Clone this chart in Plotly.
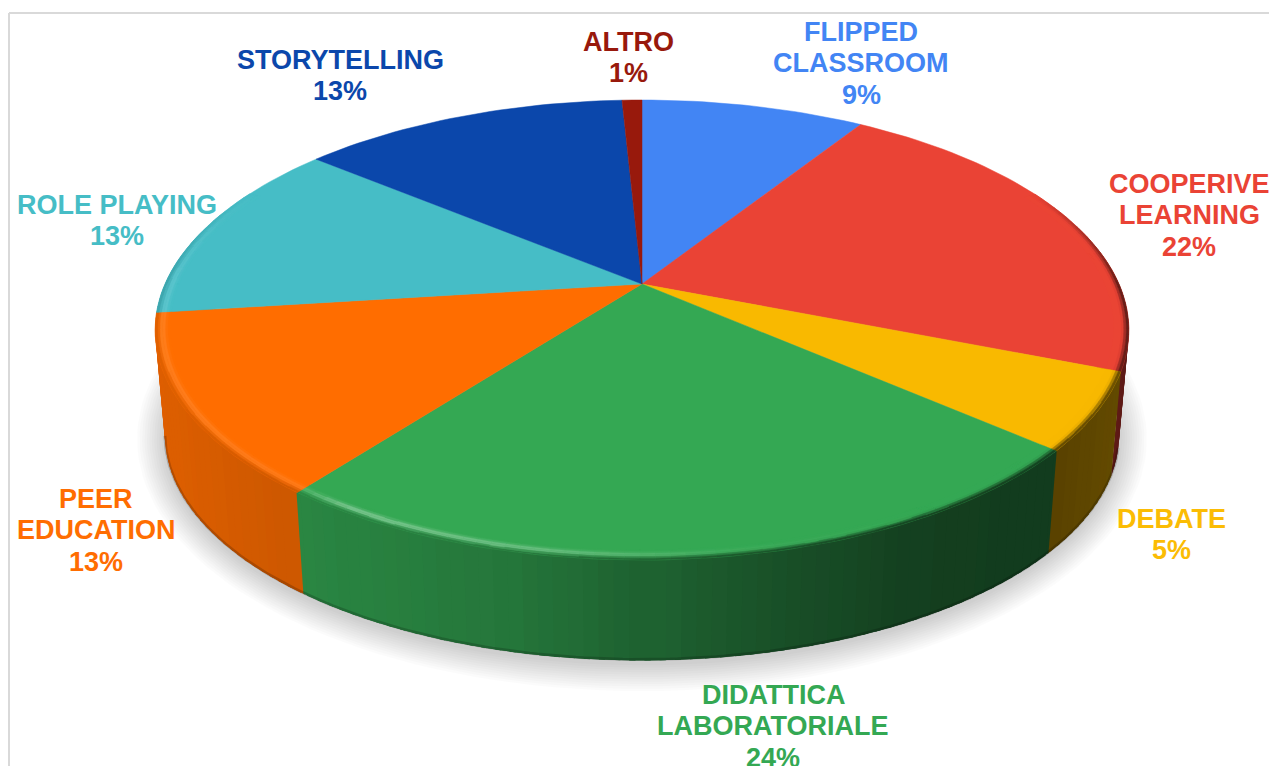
import numpy as np
import plotly.graph_objects as go

# ---- data ----
category_lines = [
    ["FLIPPED", "CLASSROOM"],
    ["COOPERIVE", "LEARNING"],
    ["DEBATE"],
    ["DIDATTICA", "LABORATORIALE"],
    ["PEER", "EDUCATION"],
    ["ROLE PLAYING"],
    ["STORYTELLING"],
    ["ALTRO"],
]
values = [9.0, 22.0, 5.4, 24.0, 12.6, 13.0, 13.2, 0.8]
colors = ["#4285f4", "#ea4335", "#f9b900", "#34a853", "#ff6d00", "#46bdc6", "#0b47ab", "#98190c"]
text_colors = ["#4285f4", "#ea4335", "#fbbc04", "#34a853", "#ff6d01", "#46bdc6", "#0b47ab", "#98190c"]

# ---- layout / style ----
W, H = 1269, 766
label_x = [861, 1189, 1171, 773, 96, 117, 340, 628]
label_y = [32, 184, 519, 695, 499, 205, 60, 42]
line_gap = 31.3
font_size = 27
CX, CY = 642, 284            # apex of the pie
A, B, K = 477, 220.8, 0.2    # perspective projection of the unit disc
BOTTOM_SCALE, BOTTOM_SHIFT = 0.98, 106
RIM_INNER = 0.97
STEP = np.radians(1.5)


def project(t, r=1.0):
    X, Y = r * np.sin(t), -r * np.cos(t)
    w = 1 - K * Y
    return A * X / w, B * Y / w


def top(t, r=1.0):
    dx, dy = project(t, r)
    return CX + dx, CY + dy


def bottom(t):
    dx, dy = project(t)
    return CX + BOTTOM_SCALE * dx, CY + BOTTOM_SHIFT + BOTTOM_SCALE * dy


def rgb(h):
    return np.array([int(h[i:i + 2], 16) for i in (1, 3, 5)], float)


def css(c):
    q = np.clip(np.round(np.asarray(c) / 2) * 2, 0, 255).astype(int)
    return f"rgb({q[0]},{q[1]},{q[2]})"


def wall_shade(dx):
    return np.interp(dx, [-485, -340, -120, 60, 260, 400, 480], [.87, .80, .70, .53, .38, .35, .40])


def highlight(dx):
    return np.interp(dx, [-490, -350, -300, -100, 100, 300], [.12, .10, .36, .28, .05, 0])


def angles(a0, a1):
    n = max(2, int(np.ceil((a1 - a0) / STEP)) + 1)
    return np.linspace(a0, a1, n)


def add_poly(store, color, xs, ys):
    bx, by = store.setdefault(color, ([], []))
    bx.extend(list(xs) + [xs[0], None])
    by.extend(list(ys) + [ys[0], None])


def poly_trace(xs, ys, color, lw):
    return go.Scatter(x=xs, y=ys, mode="lines", fill="toself", fillcolor=color,
                      line=dict(color=color, width=lw), hoverinfo="skip", showlegend=False)


fracs = np.array(values, float) / sum(values)
edges = np.concatenate([[0], np.cumsum(fracs)]) * 2 * np.pi

fig = go.Figure()

# soft ground shadow
ring = np.linspace(0, 2 * np.pi, 181)
for e in np.linspace(28, 1, 12):
    bx, by = bottom(ring)
    mx, my = CX, CY + BOTTOM_SHIFT + 46
    sx = mx + (bx - mx) * (1 + e / 480)
    sy = my + (by - my) * (1 + e / 235) + 4
    fig.add_trace(go.Scatter(x=sx, y=sy, mode="lines", fill="toself", fillcolor="rgba(0,0,0,0.015)",
                             line=dict(width=0), hoverinfo="skip", showlegend=False))

# side wall, painted from back to front; every strip overlaps its neighbours so no seams show
wall = []
OVERLAP = STEP * 0.7
for i, col in enumerate(colors):
    base = rgb(col)
    ts = angles(edges[i], edges[i + 1])
    for t0, t1 in zip(ts[:-1], ts[1:]):
        tm = (t0 + t1) / 2
        if -np.cos(tm) < -0.25:
            continue
        dx, _ = project(tm)
        a0 = max(t0 - OVERLAP, edges[i] - 0.002)
        a1 = min(t1 + OVERLAP, edges[i + 1] + 0.002)
        arc = np.linspace(a0, a1, 4)
        tx, ty = top(arc)
        bx, by = bottom(arc[::-1])
        xs = np.r_[tx, bx, tx[0]]
        ys = np.r_[ty, by, ty[0]]
        wall.append((-np.cos(tm), xs, ys, css(base * wall_shade(dx))))
for _, xs, ys, c in sorted(wall, key=lambda q: q[0]):
    fig.add_trace(poly_trace(xs, ys, c, 0))

# dark lip along the wall's lower edge
front = np.linspace(np.radians(105), np.radians(258), 200)
lx, ly = bottom(front)
fig.add_trace(go.Scatter(x=lx, y=ly - 1, mode="lines", line=dict(color="rgba(0,0,0,0.18)", width=3),
                         hoverinfo="skip", showlegend=False))

# flat top slices
for i, col in enumerate(colors):
    ts = angles(edges[i], edges[i + 1])
    x, y = top(ts)
    fig.add_trace(poly_trace(np.r_[CX, x, CX], np.r_[CY, y, CY], col, 0.5))

# bevelled rim
rim = {}
N_BANDS = 6
for i, col in enumerate(colors):
    base = rgb(col)
    ts = angles(edges[i], edges[i + 1])
    for t0, t1 in zip(ts[:-1], ts[1:]):
        tm = (t0 + t1) / 2
        fade = np.clip((-np.cos(tm) + 0.45) / 0.45, 0, 1)
        if fade <= 0:
            continue
        dx, _ = project(tm)
        wc = base * wall_shade(dx)
        for b in range(N_BANDS):
            u = (b + .5) / N_BANDS
            r0 = RIM_INNER + (1 - RIM_INNER) * b / N_BANDS
            r1 = RIM_INNER + (1 - RIM_INNER) * (b + 1) / N_BANDS
            s = np.clip((u - .5) / .5, 0, 1)
            c = base + (wc - base) * fade * s * s * (3 - 2 * s)
            h = highlight(dx) * fade * np.exp(-((u - .5) / .22) ** 2)
            c = c + (255 - c) * h
            x0, y0 = top(t0, r0); x1, y1 = top(t1, r0)
            x2, y2 = top(t1, r1); x3, y3 = top(t0, r1)
            add_poly(rim, css(c), [x0, x1, x2, x3], [y0, y1, y2, y3])
for c, (xs, ys) in rim.items():
    fig.add_trace(poly_trace(xs, ys, c, 0.4))

# labels
for lines, v, c, lx0, ly0 in zip(category_lines, values, text_colors, label_x, label_y):
    for j, txt in enumerate(lines + [f"{v:.0f}%"]):
        fig.add_annotation(x=lx0, y=ly0 + j * line_gap, text=f"<b>{txt}</b>", showarrow=False,
                           xanchor="center", yanchor="middle",
                           font=dict(family="Liberation Sans, Arial, sans-serif", size=font_size, color=c))

# chart frame
frame = dict(type="line", line=dict(color="#d9d9d9", width=2), layer="below")
fig.add_shape(x0=9, x1=9, y0=13, y1=H, **frame)
fig.add_shape(x0=9, x1=W, y0=13, y1=13, **frame)

fig.update_layout(width=W, height=H, margin=dict(l=0, r=0, t=0, b=0),
                  paper_bgcolor="white", plot_bgcolor="white", showlegend=False,
                  xaxis=dict(range=[0, W], visible=False, fixedrange=True),
                  yaxis=dict(range=[H, 0], visible=False, fixedrange=True))
fig.write_html("out.html", config={"displayModeBar": False},
               post_script="document.body.style.margin='0';document.body.style.overflow='hidden';")
